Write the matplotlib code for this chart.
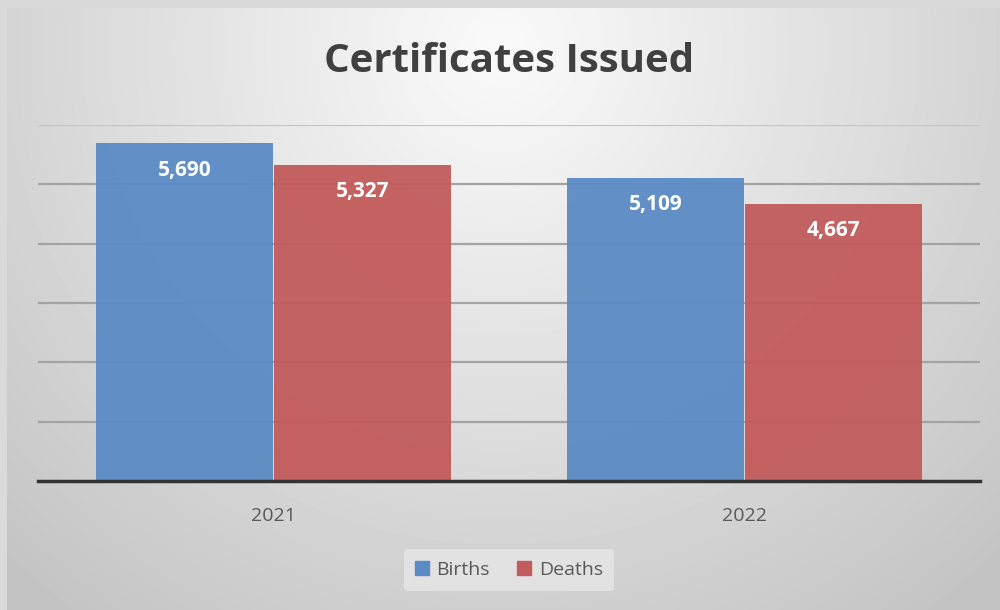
import numpy as np
import matplotlib.pyplot as plt
from matplotlib.patches import Patch

years = ["2021", "2022"]
births = [5690, 5109]
deaths = [5327, 4667]
series_names = ["Births", "Deaths"]

blue = "#5b8bc4"
red = "#c25b5b"

fig = plt.figure(figsize=(10, 6.1), dpi=100)
fig.patch.set_facecolor("#dadada")

# background panel with radial gradient
bg = fig.add_axes([0.007, 0.0, 0.993, 1 - 8 / 610])
yy, xx = np.mgrid[0:602, 0:993]
d = np.sqrt((xx - 493) ** 2 + ((yy - 40) * 1.0) ** 2)
shade = np.clip(250 - 58 * d / 760, 195, 252) / 255
bg.imshow(shade, cmap="gray", vmin=0, vmax=1, aspect="auto", interpolation="bilinear")
bg.axis("off")

ax = fig.add_axes([0.038, 1 - 481 / 610, 0.942, (481 - 125) / 610])
ax.set_facecolor("none")

x = np.arange(len(years))
w = 0.374
b1 = ax.bar(x - w / 2 - 0.002, births, w, color=blue, alpha=0.95, zorder=2, label=series_names[0])
b2 = ax.bar(x + w / 2 + 0.002, deaths, w, color=red, alpha=0.95, zorder=2, label=series_names[1])

for bars in (b1, b2):
    for r in bars:
        ax.text(r.get_x() + r.get_width() / 2, r.get_height() - 450, f"{int(r.get_height()):,}",
                ha="center", va="center", color="white", fontsize=15, fontweight="bold",
                family="Open Sans", zorder=3)

ax.set_xlim(-0.5, 1.5)
ax.set_ylim(0, 6000)
ax.set_yticks(range(1000, 7000, 1000))
ax.yaxis.grid(True, color="#a3a3a3", linewidth=1.6, zorder=1)
ax.set_axisbelow(True)
ax.get_ygridlines()[-1].set_color("#c4c4c4")
ax.tick_params(axis="y", left=False, labelleft=False)
ax.tick_params(axis="x", bottom=False, labelsize=14, colors="#595959", pad=15)
ax.set_xticks(x)
ax.set_xticklabels(years, family="Open Sans")
for s in ["top", "right", "left"]:
    ax.spines[s].set_visible(False)
ax.spines["bottom"].set_color("#333333")
ax.spines["bottom"].set_linewidth(2.5)
ax.spines["bottom"].set_zorder(4)

fig.text(0.509, 1 - 62 / 610, "Certificates Issued", ha="center", va="center",
         fontsize=29, fontweight="bold", color="#404040", family="Open Sans")

handles = [Patch(color=blue), Patch(color=red)]
leg = fig.legend(handles, series_names, loc="center", bbox_to_anchor=(0.509, 1 - 570 / 610),
                 ncol=2, frameon=True, fontsize=14, handlelength=0.7, handleheight=0.7,
                 handletextpad=0.4, columnspacing=1.4, borderpad=0.6,
                 prop={"family": "Open Sans", "size": 14})
leg.get_frame().set_facecolor("#e2e2e2")
leg.get_frame().set_edgecolor("none")
leg.get_frame().set_alpha(1)
for t in leg.get_texts():
    t.set_color("#595959")

fig.savefig("out.png", dpi=100)
